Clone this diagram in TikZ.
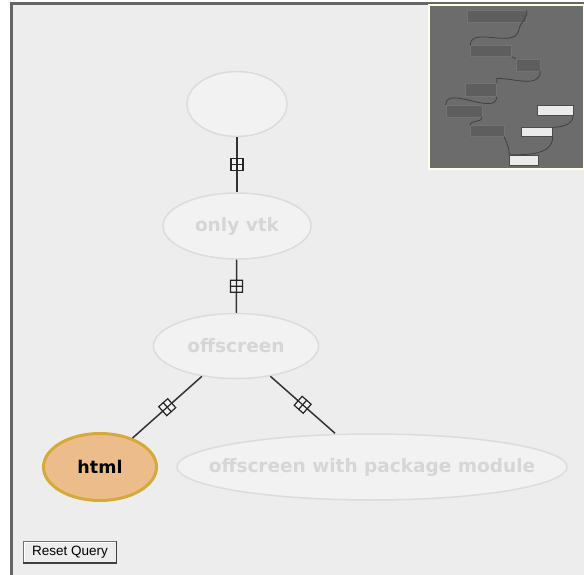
\documentclass[tikz,border=0pt]{standalone}
\usepackage{fontspec}
\setmainfont{Liberation Sans}
\newfontfamily\qfont{DejaVu Sans}
\usetikzlibrary{positioning,shapes.geometric,calc}
\definecolor{panelbg}{HTML}{EDEDED}
\definecolor{ghostfill}{HTML}{F2F2F2}
\definecolor{ghostline}{HTML}{DCDCDC}
\definecolor{ghosttext}{HTML}{D6D6D6}
\definecolor{selfill}{HTML}{ECBD8B}
\definecolor{selline}{HTML}{D6AA3A}
\definecolor{mapbg}{HTML}{6C6C6C}
\definecolor{mapbox}{HTML}{5E5E5E}

\begin{document}
\begin{tikzpicture}[x=1pt, y=-1pt,
    qnode/.style={ellipse, draw=ghostline, line width=1.5pt, fill=ghostfill, inner sep=0pt, text=ghosttext, font=\qfont\fontsize{18.5}{21}\selectfont\bfseries},
    selnode/.style={qnode, draw=selline, line width=3pt, fill=selfill, text=black},
    edge/.style={draw=black!80, line width=1.5pt},
    marker/.style={rectangle, draw=black!85, line width=1.2pt, fill=ghostfill, minimum size=12pt, inner sep=0pt, sloped,
        append after command={(\tikzlastnode.north) edge[line width=1.2pt, black!85] (\tikzlastnode.south)
            (\tikzlastnode.west) edge[line width=1.2pt, black!85] (\tikzlastnode.east)}},
    mapblock/.style={rectangle, draw=black!55, fill=mapbox, inner sep=0pt},
    mapleaf/.style={rectangle, draw=black!70, fill=white!92!black, inner sep=0pt},
    mapwire/.style={draw=black!75, line width=0.8pt},
    button/.style={rectangle, draw=black!55, fill=panelbg, inner sep=0pt, minimum width=93pt, minimum height=22pt, font=\fontsize{13.5}{15}\selectfont},
]
\useasboundingbox (0,0) rectangle (584,575);
\fill[white] (0,0) rectangle (584,575);
\fill[panelbg] (11,4) rectangle (584,575);
\draw[black!60, line width=3pt] (11,575) -- (11,4) -- (584,4);

% query graph
\node[qnode, minimum width=100pt, minimum height=65pt] (root) at (237,104) {};
\node[qnode, minimum width=148pt, minimum height=66pt] (vtk) at (237,226) {only vtk};
\node[qnode, minimum width=165pt, minimum height=65pt] (off) at (236,346) {offscreen};
\node[selnode, minimum width=113pt, minimum height=67pt, font=\qfont\fontsize{17.5}{20}\selectfont\bfseries] (html) at (100,467) {html};
\node[qnode, minimum width=390pt, minimum height=66pt, inner xsep=-30pt] (pkg) at (372,467) {offscreen with package module};

\draw[edge] (root) -- node[marker] {} (vtk);
\draw[edge] (vtk) -- node[marker] {} (off);
\draw[edge] (off) -- node[marker] {} (html);
\draw[edge] (off) -- node[marker] {} ([xshift=-37pt]pkg.north);

% overview map
\fill[mapbg] (429,5) rectangle (584,169);
\draw[white!90!yellow, line width=2pt] (429,169) -- (429,5) -- (584,5) -- (584,169) -- cycle;
\node[mapblock, minimum width=59pt, minimum height=12pt] (m1) at (497,16) {};
\node[mapblock, minimum width=41pt, minimum height=11pt] (m2) at (491,51) {};
\node[mapblock, minimum width=24pt, minimum height=12pt] (m3) at (528,65) {};
\node[mapblock, minimum width=31pt, minimum height=13pt] (m4) at (481,90) {};
\node[mapblock, minimum width=36pt, minimum height=12pt] (m5) at (464,111) {};
\node[mapblock, minimum width=34pt, minimum height=11pt] (m6) at (487,131) {};
\node[mapleaf, minimum width=36pt, minimum height=10pt] (w1) at (555,110) {};
\node[mapleaf, minimum width=31pt, minimum height=9pt] (w2) at (537,132) {};
\node[mapleaf, minimum width=29pt, minimum height=10pt] (w3) at (524,160) {};
\draw[mapwire] (m1.north east) to[out=-80, in=80] ($(m1.south east)+(-8,8)$) to[out=-100, in=90] (m2.north west);
\draw[mapwire] (m2.south east) to[out=0, in=180] (m3.north west);
\draw[mapwire] (m3.south east) to[out=-90, in=0] ($(m4.north east)+(0,-5)$) -- (m4.north east);
\draw[mapwire] (m4.south east) to[out=-90, in=90] (m5.north west);
\draw[mapwire] (m5.south east) to[out=-90, in=90] (m6.north west);
\draw[mapwire] (m6.south east) to[out=-70, in=90] (w3.north west);
\draw[mapwire] (w1.south east) to[out=-90, in=0] (w2.north east);
\draw[mapwire] (w2.south east) to[out=-90, in=0] (w3.north west);

% reset button
\node[button] (reset) at (70,552) {Reset Query};
\draw[white, line width=1pt] ([shift={(1.5,-1.5)}]reset.south west) -- ([shift={(1.5,1.5)}]reset.north west) -- ([shift={(-1.5,1.5)}]reset.north east);
\draw[black!75, line width=1.5pt] (reset.north east) -- (reset.south east) -- (reset.south west);
\end{tikzpicture}
\end{document}
